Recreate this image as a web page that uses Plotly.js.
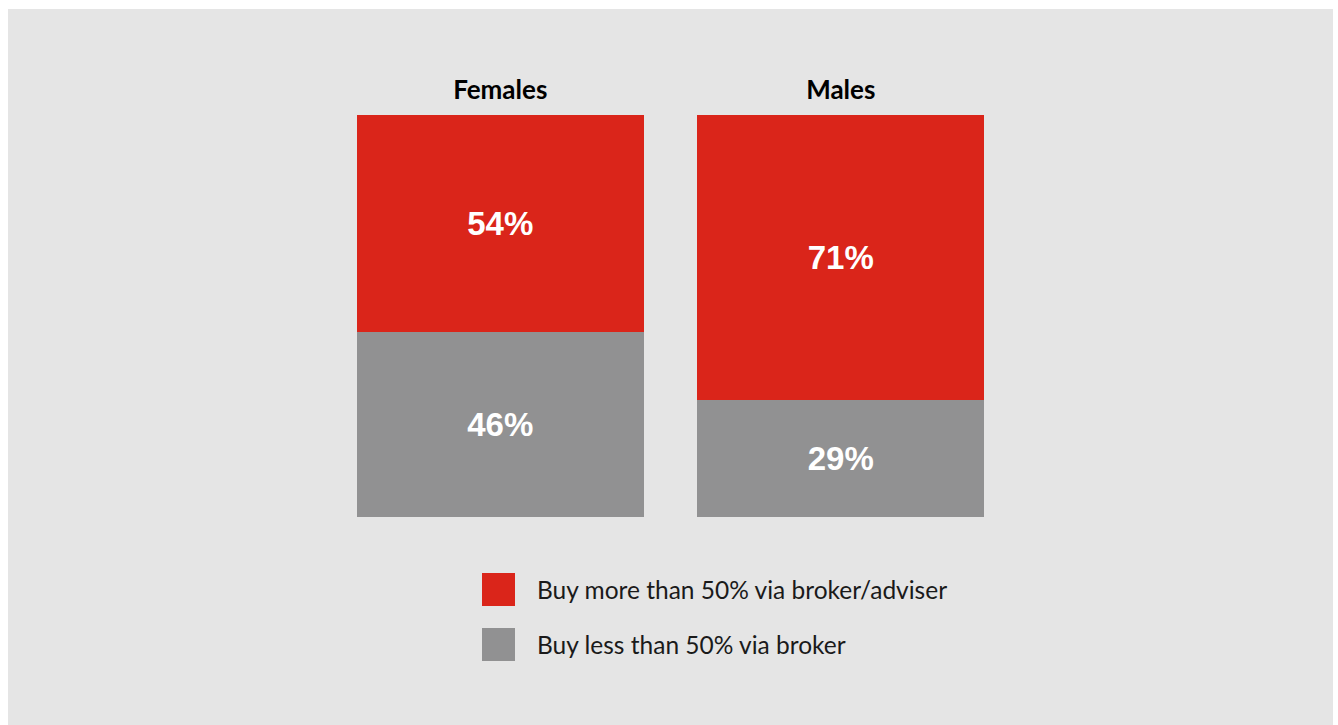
<!DOCTYPE html>
<html>
<head>
<meta charset="utf-8">
<script src="https://cdn.plot.ly/plotly-3.0.1.min.js"></script>
<style>
  html, body { margin: 0; padding: 0; background: #ffffff; width: 1338px; height: 725px; overflow: hidden; }
  #chart { position: absolute; left: 8px; top: 9px; width: 1325px; height: 716px; }
</style>
</head>
<body>
<div id="chart"></div>
<script>
const categories = ["Females", "Males"];
const seriesNames = ["Buy less than 50% via broker", "Buy more than 50% via broker/adviser"];
const lessValues = [46, 29];
const moreValues = [54, 71];
const colors = ["#919192", "#da251a"];

const W = 1325, H = 716;
const M = { l: 322, r: 322, t: 106, b: 208 };
const PW = W - M.l - M.r, PH = H - M.t - M.b;
const px = x => (x - M.l) / PW;
const py = y => (M.t + PH - y) / PH;

function pct(v) { return v.map(d => d + "%"); }

const barFont = { family: "Liberation Sans, Arial, sans-serif", size: 33, color: "#ffffff", weight: "bold" };
const traces = [
  {
    type: "bar", name: seriesNames[0], x: categories, y: lessValues,
    text: pct(lessValues), textposition: "inside", insidetextanchor: "middle",
    textfont: barFont, marker: { color: colors[0] }, hoverinfo: "skip", cliponaxis: false
  },
  {
    type: "bar", name: seriesNames[1], x: categories, y: moreValues,
    text: pct(moreValues), textposition: "inside", insidetextanchor: "middle",
    textfont: barFont, marker: { color: colors[1] }, hoverinfo: "skip", cliponaxis: false
  }
];

// custom legend (order: more first, then less)
const legendOrder = [1, 0];
const shapes = [], annotations = [];
legendOrder.forEach((si, i) => {
  const top = 564 + i * 55;
  shapes.push({
    type: "rect", xref: "paper", yref: "paper",
    x0: px(474), x1: px(507), y0: py(top + 33), y1: py(top),
    fillcolor: colors[si], line: { width: 0 }
  });
  annotations.push({
    xref: "paper", yref: "paper", x: px(527), y: py(top + 16.5),
    xanchor: "left", yanchor: "middle", showarrow: false,
    text: seriesNames[si],
    font: { family: "Lato, sans-serif", size: 24.5, color: "#1a1a1a" }
  });
});

const layout = {
  width: W, height: H,
  margin: M,
  paper_bgcolor: "#e5e5e5", plot_bgcolor: "#e5e5e5",
  barmode: "stack", bargap: 0.156,
  showlegend: false,
  xaxis: {
    type: "category", range: [-0.5, 1.5], side: "top",
    showgrid: false, zeroline: false, showline: false, ticks: "",
    tickfont: { family: "Lato, sans-serif", size: 26, color: "#000000", weight: "bold" },
    ticklabelstandoff: 10, fixedrange: true
  },
  yaxis: {
    range: [0, 100], showgrid: false, zeroline: false, showline: false,
    showticklabels: false, ticks: "", fixedrange: true
  },
  shapes: shapes,
  annotations: annotations
};

Plotly.newPlot("chart", traces, layout, { displayModeBar: false, staticPlot: true });
</script>
</body>
</html>
